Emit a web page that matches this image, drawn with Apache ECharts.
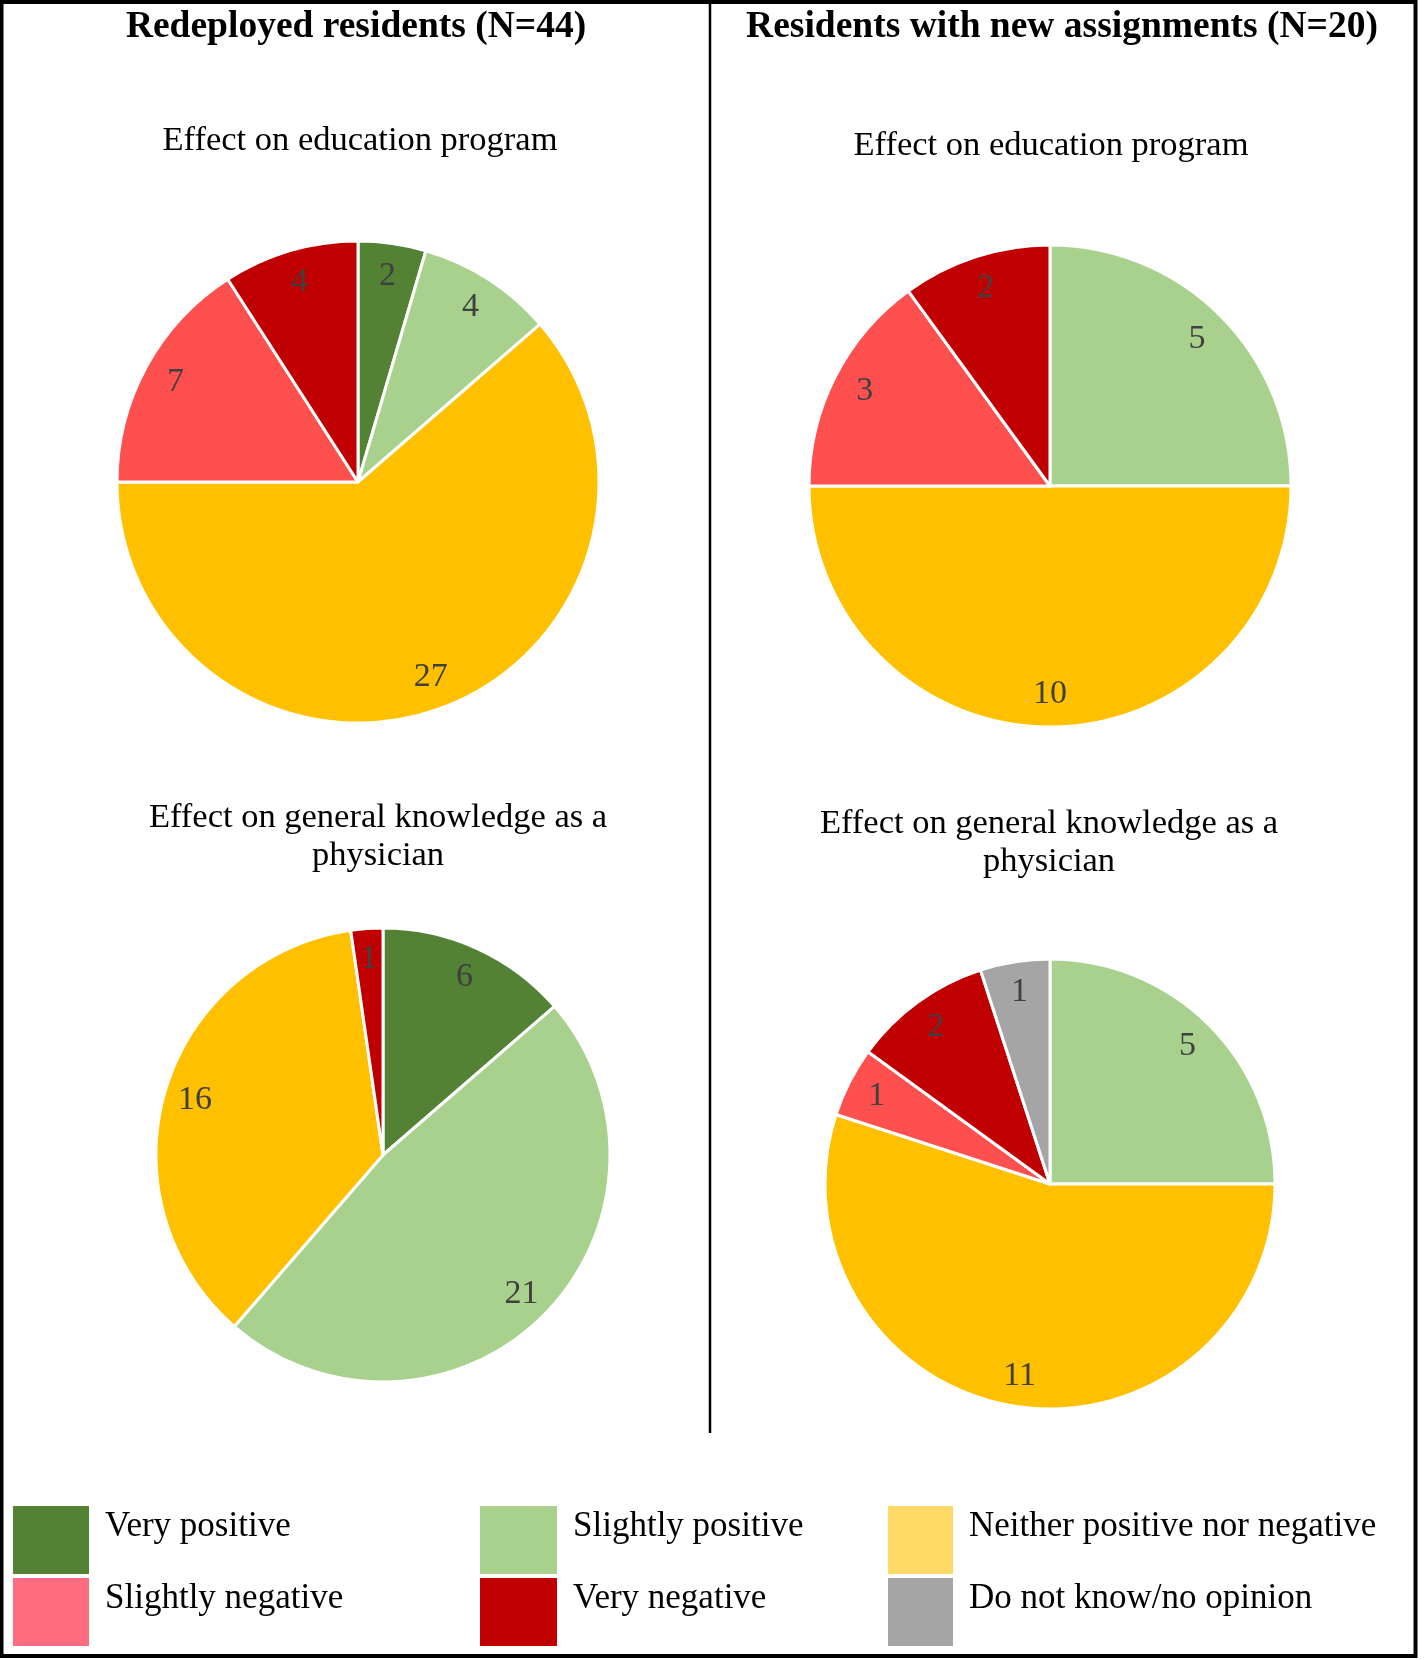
<!DOCTYPE html>
<html>
<head>
<meta charset="utf-8">
<script src="https://cdn.jsdelivr.net/npm/echarts@6/dist/echarts.min.js"></script>
<style>
  html, body { margin: 0; padding: 0; background: #fff; }
  #chart { width: 1424px; height: 1660px; }
</style>
</head>
<body>
<div id="chart"></div>
<script>
var categories = ["Very positive", "Slightly positive", "Neither positive nor negative",
    "Slightly negative", "Very negative", "Do not know/no opinion"];
var sliceColors = ["#548235", "#A9D18E", "#FFC000", "#FF5050", "#C00000", "#A5A5A5"];
var legendColors = ["#548235", "#A9D18E", "#FFD966", "#FF6B7F", "#C00000", "#A5A5A5"];

var redeployedEducation = [2, 4, 27, 7, 4, 0];
var redeployedKnowledge = [6, 21, 16, 0, 1, 0];
var newAssignEducation = [0, 5, 10, 3, 2, 0];
var newAssignKnowledge = [0, 5, 11, 1, 2, 1];

var serif = "Liberation Serif";

function pieData(values) {
    var out = [];
    values.forEach(function (v, i) {
        if (v > 0) out.push({ value: v, name: categories[i], itemStyle: { color: sliceColors[i] } });
    });
    return out;
}

// one series for the wedges, one see-through ring on top to put labels near the rim
function makePie(values, center, r) {
    return [{
        type: "pie",
        center: center,
        radius: [0, r],
        startAngle: 90,
        clockwise: true,
        itemStyle: { borderColor: "#fff", borderWidth: 3 },
        label: { show: false },
        labelLine: { show: false },
        emphasis: { disabled: true },
        data: pieData(values)
    }, {
        type: "pie",
        center: center,
        radius: [Math.round(r * 0.7), r],
        startAngle: 90,
        clockwise: true,
        silent: true,
        itemStyle: { color: "rgba(0,0,0,0)", borderWidth: 0 },
        label: {
            show: true,
            position: "inside",
            formatter: "{c}",
            fontFamily: serif,
            fontSize: 34,
            color: "#404040"
        },
        labelLine: { show: false },
        emphasis: { disabled: true },
        data: pieData(values).map(function (d) {
            return { value: d.value, name: d.name, itemStyle: { color: "rgba(0,0,0,0)" } };
        })
    }];
}

function legendCol(left, width, idx) {
    return {
        left: left,
        top: 1504,
        orient: "vertical",
        icon: "rect",
        itemWidth: width,
        itemHeight: 70,
        itemGap: 0,
        padding: 0,
        selectedMode: false,
        // empty second line lifts the name toward the top of its swatch
        formatter: function (name) {
            return "{t|" + name + "}\n{s| }";
        },
        textStyle: {
            fontFamily: serif,
            fontSize: 35,
            color: "#000",
            rich: {
                t: { fontFamily: serif, fontSize: 35, color: "#000", lineHeight: 40, padding: [0, 0, 0, 10] },
                s: { fontSize: 10, lineHeight: 26 }
            }
        },
        data: idx.map(function (i) {
            return { name: categories[i], itemStyle: { color: legendColors[i] } };
        })
    };
}

var headStyle = { fontFamily: serif, fontSize: 37.5, fontWeight: "bold", color: "#000" };
var subStyle = { fontFamily: serif, fontSize: 34.5, fontWeight: "normal", color: "#000", lineHeight: 38 };

var option = {
    backgroundColor: "#fff",
    animation: false,
    title: [
        { text: "Redeployed residents (N=44)", left: 356, top: 8, textAlign: "center", padding: 0, textStyle: headStyle },
        { text: "Residents with new assignments (N=20)", left: 1062, top: 8, textAlign: "center", padding: 0, textStyle: headStyle },
        { text: "Effect on education program", left: 360, top: 122, textAlign: "center", padding: 0, textStyle: subStyle },
        { text: "Effect on education program", left: 1051, top: 127, textAlign: "center", padding: 0, textStyle: subStyle },
        { text: "Effect on general knowledge as a\nphysician", left: 378, top: 799, textAlign: "center", padding: 0, textStyle: subStyle },
        { text: "Effect on general knowledge as a\nphysician", left: 1049, top: 805, textAlign: "center", padding: 0, textStyle: subStyle }
    ],
    legend: [
        legendCol(11, 78, [0, 3]),
        legendCol(478, 79, [1, 4]),
        legendCol(886, 67, [2, 5])
    ],
    graphic: [
        { type: "rect", shape: { x: 1.5, y: 2, width: 1414, height: 1654 },
          style: { fill: "none", stroke: "#000", lineWidth: 4 }, silent: true },
        { type: "line", shape: { x1: 710, y1: 0, x2: 710, y2: 1433 },
          style: { stroke: "#000", lineWidth: 2.5 }, silent: true }
    ],
    series: [].concat(
        makePie(redeployedEducation, [358, 482], 241),
        makePie(redeployedKnowledge, [383, 1155], 227),
        makePie(newAssignEducation, [1050, 486], 241),
        makePie(newAssignKnowledge, [1050, 1184], 225)
    )
};

echarts.init(document.getElementById("chart")).setOption(option);
</script>
</body>
</html>
